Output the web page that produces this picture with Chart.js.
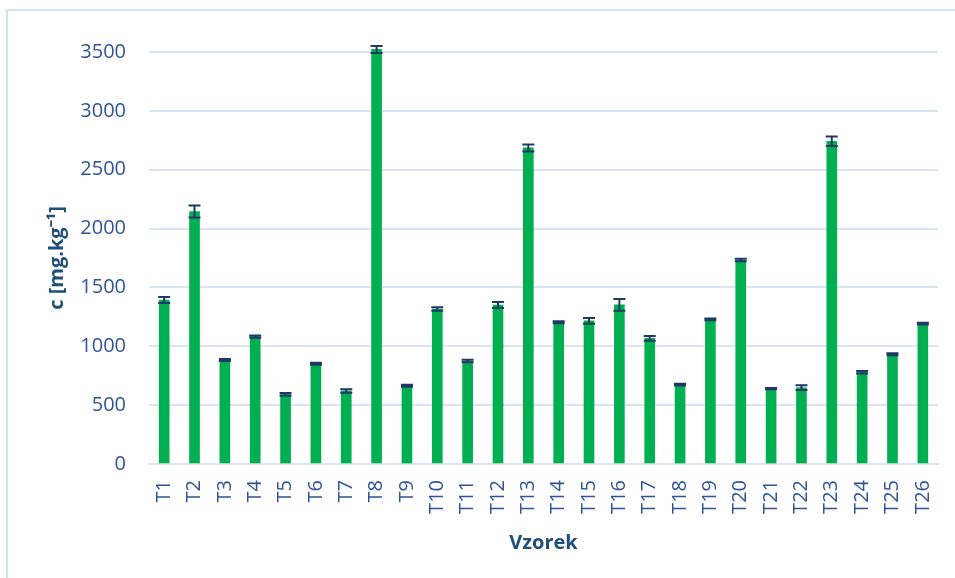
<!DOCTYPE html>
<html>
<head>
<meta charset="utf-8">
<script src="https://cdn.jsdelivr.net/npm/chart.js@4"></script>
<style>
  html, body { margin: 0; padding: 0; background: #fff; }
  #wrap { width: 955px; height: 578px; position: relative; }
</style>
</head>
<body>
<div id="wrap"><canvas id="graf" width="955" height="578"></canvas></div>
<script>
// --- DATA ---
const vzorky = ['T1','T2','T3','T4','T5','T6','T7','T8','T9','T10','T11','T12','T13',
                'T14','T15','T16','T17','T18','T19','T20','T21','T22','T23','T24','T25','T26'];
const koncentrace = [1393, 2145, 884, 1082, 592, 852, 620, 3522, 665, 1317, 875, 1351, 2685,
                     1204, 1216, 1352, 1068, 674, 1229, 1733, 640, 648, 2742, 779, 932, 1193];
const odchylky = [25, 50, 8, 10, 12, 8, 15, 30, 8, 15, 10, 25, 30,
                  8, 25, 50, 20, 8, 8, 10, 5, 20, 40, 10, 8, 8];
const yTicks = [0, 500, 1000, 1500, 2000, 2500, 3000, 3500];

const modra = '#2f5597';
const tmava = '#1f4e79';
const mrizka = '#dbe4f3';

// ramecek grafu
const ramecek = {
  id: 'ramecek',
  beforeDraw(chart) {
    const ctx = chart.ctx;
    ctx.save();
    ctx.strokeStyle = '#d6e2f2';
    ctx.lineWidth = 2;
    ctx.strokeRect(7, 10, 1000, 1000);
    ctx.restore();
  }
};

// chybove useky
const chyby = {
  id: 'chyby',
  afterDatasetsDraw(chart) {
    const ctx = chart.ctx;
    const y = chart.scales.y;
    const meta = chart.getDatasetMeta(0);
    ctx.save();
    ctx.strokeStyle = '#1f3864';
    ctx.lineWidth = 2;
    meta.data.forEach((bar, i) => {
      const v = koncentrace[i], e = odchylky[i];
      const top = y.getPixelForValue(v + e);
      const bot = y.getPixelForValue(v - e);
      ctx.beginPath();
      ctx.moveTo(bar.x, top); ctx.lineTo(bar.x, bot);
      ctx.moveTo(bar.x - 6, top); ctx.lineTo(bar.x + 6, top);
      ctx.moveTo(bar.x - 6, bot); ctx.lineTo(bar.x + 6, bot);
      ctx.stroke();
    });
    ctx.restore();
  }
};

new Chart(document.getElementById('graf'), {
  type: 'bar',
  data: {
    labels: vzorky,
    datasets: [{
      data: koncentrace,
      backgroundColor: '#00b050',
      barThickness: 10,
      clip: false
    }]
  },
  options: {
    responsive: false,
    animation: false,
    events: [],
    layout: { padding: { left: 40, top: 52, right: 17, bottom: 23 } },
    plugins: { legend: { display: false }, tooltip: { enabled: false } },
    scales: {
      x: {
        grid: { display: false, drawTicks: false },
        border: { color: mrizka, width: 2 },
        ticks: {
          color: modra, padding: 16, minRotation: 90, maxRotation: 90, autoSkip: false,
          font: { family: 'Open Sans', size: 20 }
        },
        title: {
          display: true, text: 'Vzorek', color: tmava, padding: { top: 4, bottom: 0 },
          font: { family: 'Open Sans', size: 20, weight: 'bold' }
        },
        afterFit(s) { s.height = 91; s.paddingLeft = 0; s.paddingRight = 0; }
      },
      y: {
        min: 0, max: 3500,
        afterBuildTicks(s) { s.ticks = yTicks.map(v => ({ value: v })); },
        grid: { color: mrizka, lineWidth: 2, drawTicks: false },
        border: { display: false },
        ticks: {
          color: modra, padding: 23, font: { family: 'Open Sans', size: 20 },
          callback: v => String(v)
        },
        title: {
          display: true, text: 'c [mg.kg⁻¹]', color: tmava, padding: { top: 5, bottom: 0 },
          font: { family: 'Open Sans', size: 20, weight: 'bold' }
        },
        afterFit(s) { s.width = 109; s.paddingTop = 0; s.paddingBottom = 0; }
      }
    }
  },
  plugins: [ramecek, chyby]
});
</script>
</body>
</html>
